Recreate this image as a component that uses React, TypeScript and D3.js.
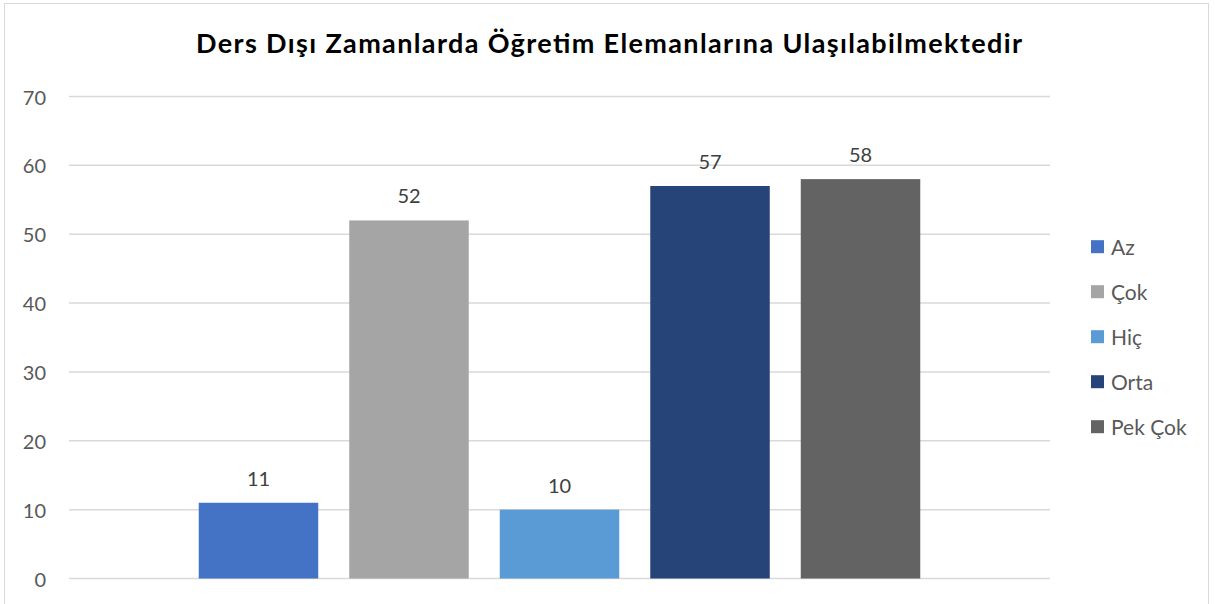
import * as d3 from "d3";

const TITLE = "Ders Dışı Zamanlarda Öğretim Elemanlarına Ulaşılabilmektedir";
const SERIES = ["Az", "Çok", "Hiç", "Orta", "Pek Çok"];
const VALUES = [11, 52, 10, 57, 58];
const COLORS = ["#4472C4", "#A5A5A5", "#5B9BD5", "#264478", "#636363"];
const Y_TICKS = [0, 10, 20, 30, 40, 50, 60, 70];

const W = 1215;
const H = 604;
const FONT = "Lato, 'Open Sans', sans-serif";

export default function App() {
  const x = d3
    .scaleBand<string>()
    .domain(SERIES)
    .range([69, 1050])
    .paddingInner(0.206)
    .paddingOuter(0.862);
  const y = d3.scaleLinear().domain([0, 70]).range([578.5, 96.5]);
  const color = d3.scaleOrdinal<string, string>().domain(SERIES).range(COLORS);

  const legendY = d3
    .scalePoint<string>()
    .domain(SERIES)
    .range([246.7, 426.7]);

  return (
    <svg
      width={W}
      height={H}
      style={{ position: "absolute", left: 0, top: 0, background: "#fff" }}
      fontFamily={FONT}
    >
      <rect x={4.5} y={3.5} width={1204} height={640} fill="#fff" stroke="#D9D9D9" />

      <text
        x={609}
        y={53}
        textAnchor="middle"
        fontSize={27}
        fontWeight="bold"
        fill="#000"
        textLength={826}
        lengthAdjust="spacing"
      >
        {TITLE}
      </text>

      {Y_TICKS.map((t) => (
        <g key={t}>
          <line
            x1={69}
            x2={1050}
            y1={y(t)}
            y2={y(t)}
            stroke="#D9D9D9"
            strokeWidth={1.5}
          />
          <text
            x={46}
            y={y(t)}
            textAnchor="end"
            dominantBaseline="central"
            fontSize={20}
            fill="#595959"
          >
            {t}
          </text>
        </g>
      ))}

      {SERIES.map((s, i) => (
        <g key={s}>
          <rect
            x={x(s)}
            y={y(VALUES[i])}
            width={x.bandwidth()}
            height={y(0) - y(VALUES[i])}
            fill={color(s)}
          />
          <text
            x={(x(s) ?? 0) + x.bandwidth() / 2}
            y={y(VALUES[i]) - 17}
            textAnchor="middle"
            fontSize={20}
            fill="#404040"
          >
            {VALUES[i]}
          </text>
        </g>
      ))}

      {SERIES.map((s) => (
        <g key={"lg-" + s} transform={`translate(1091,${legendY(s)})`}>
          <rect x={0} y={-6.5} width={13} height={13} fill={color(s)} />
          <text x={20} y={0} dominantBaseline="central" fontSize={21} fill="#595959">
            {s}
          </text>
        </g>
      ))}
    </svg>
  );
}
